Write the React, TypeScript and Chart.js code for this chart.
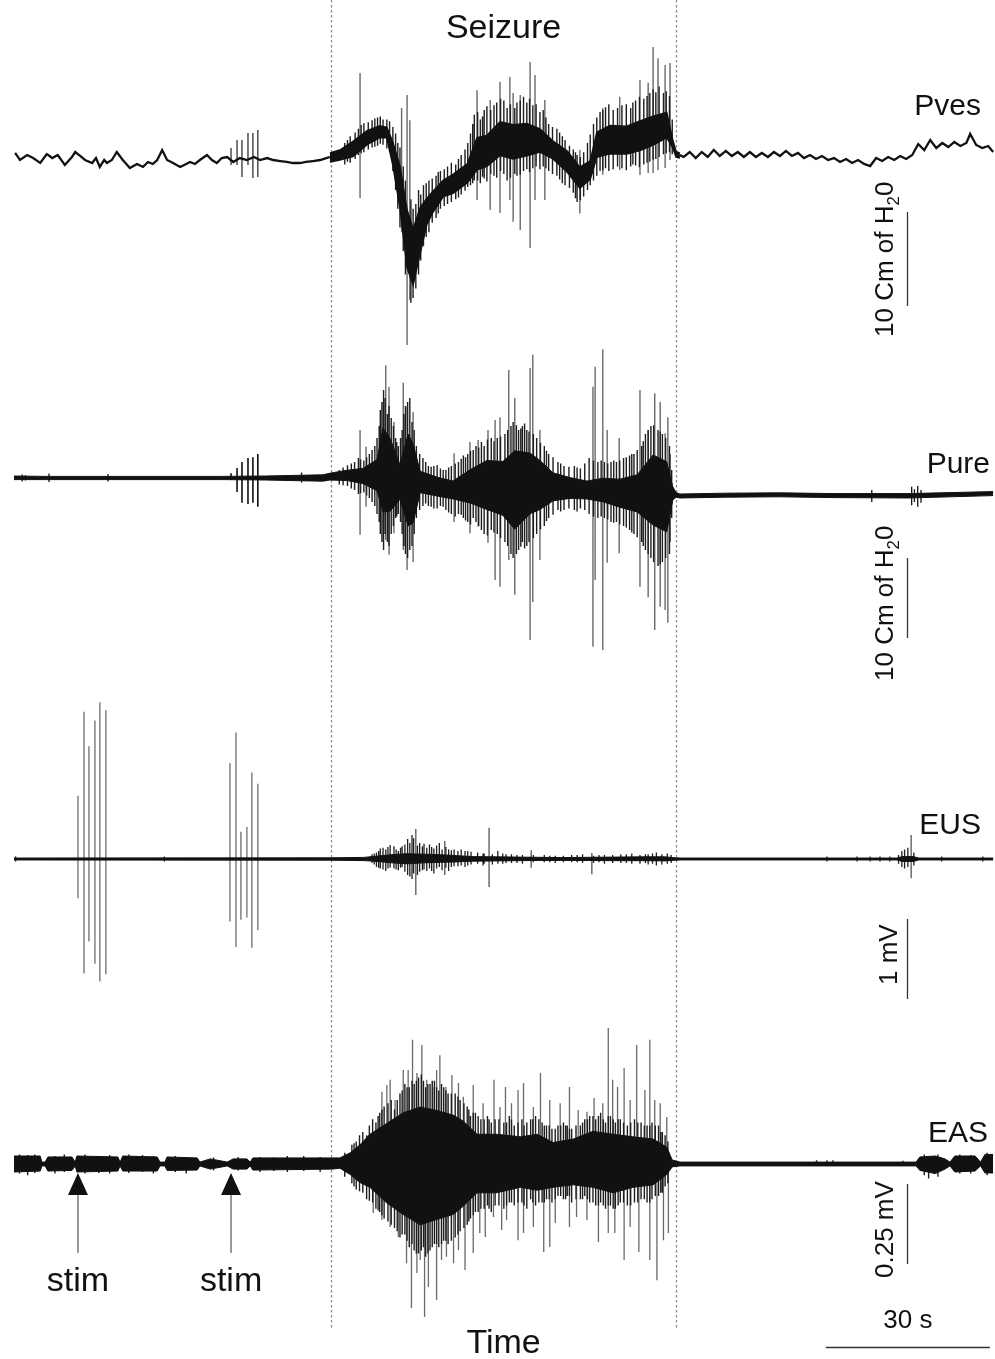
import { useEffect, useRef } from "react";
import { Chart, registerables } from "chart.js";

Chart.register(...registerables);

const CANVAS_W = 995;
const CANVAS_H = 1359;

// ---------- time axis (s from start of record) ----------
const timeMin = -2.56;
const timeMax = 179.44;
const seizureWindow = [58.0, 121.1];
const stimTimes = [11.7, 39.7];
const timeBarSeconds = 30;
const timeBarStart = 148.5;

// ---------- Pves (cm H2O, relative to resting baseline) ----------
const pvesPre: [number, number][] = [
  [0.2, 0.43], [1.1, -0.32], [2.4, 0.21], [3.5, -0.11], [4.8, -0.64], [6.0, 0.32], [7.0, -0.11], [8.0, 0.21],
  [9.3, -0.85], [10.6, 0], [11.2, 0.53], [12.1, 0.11], [13.0, -0.32], [14.3, -0.64], [15.0, -0.11], [15.7, -1.06],
  [16.5, -0.32], [17.0, -0.64], [17.9, -0.32], [18.8, 0.53], [19.9, -0.32], [21.2, -1.17], [22.5, -0.74], [23.6, -1.06],
  [24.5, -0.53], [25.4, -0.74], [26.2, -0.32], [27.1, 0.74], [28.0, -0.32], [29.1, -0.64], [30.4, -1.06], [31.5, -0.74],
  [32.2, -0.53], [33.1, -0.74], [34.0, -0.32], [35.3, 0.21], [36.2, -0.32], [37.1, -0.64], [38.0, -0.11], [39.0, 0],
  [40.1, -0.53], [41.3, -0.11], [42.6, -0.32], [43.9, 0], [45.0, -0.32], [46.3, -0.11], [47.4, -0.32], [48.7, -0.43],
  [49.9, -0.53], [51.0, -0.64], [52.3, -0.64], [53.4, -0.53], [54.7, -0.43], [56.0, -0.32], [57.1, -0.11], [57.8, 0],
];
const pvesStim: [number, number, number][] = [
  [39.7, -0.85, 0.96], [40.8, -0.85, 1.81], [41.7, -2.13, 1.81], [42.8, -0.85, 2.55], [43.7, -2.23, 2.55], [44.6, -2.13, 2.87],
];
const pvesSeizureCore: [number, number, number][] = [
  [57.8, 0.43, -0.53], [59.6, 0.74, -0.31], [62.0, 1.66, 0.05], [64.6, 2.79, 1.32], [66.9, 3.33, 2.07], [68.2, 3.16, 2.04],
  [69.3, 1.58, -0.88], [70.6, -0.96, -5.44], [71.9, -5.62, -11.78], [73.0, -7.68, -13.63], [74.3, -5.35, -10.25],
  [75.5, -4.4, -7.2], [76.6, -3.68, -5.92], [78.5, -2.48, -4.23], [80.3, -1.84, -3.87], [82.9, -0.74, -2.77],
  [84.7, 2.07, -1.37], [86.5, 2.3, -1.0], [88.9, 3.74, 0.16], [91.3, 3.42, -0.22], [93.8, 3.57, 0.14], [96.2, 2.98, 0.53],
  [98.6, 1.7, -0.2], [101.2, 0.62, -1.62], [103.5, -1.08, -3.32], [105.4, -0.42, -2.38], [106.6, 2.63, -0.03],
  [109.0, 3.36, 0.35], [112.1, 3.27, 0.33], [114.5, 3.83, 0.68], [116.9, 4.34, 1.26], [119.4, 4.73, 2.07],
  [120.5, 1.82, 0.98], [121.1, 0.6, 0], [121.8, 0.4, -0.1],
];
const pvesSeizureSpikes: [number, number, number][] = [
  [63.3, -4.36, 8.94], [70.9, -8.0, 5.2], [71.9, -20.0, 6.6], [72.4, -15.2, 3.9], [84.7, -4.57, 7.1], [87.1, -5.64, 6.06],
  [88.9, -5.96, 8.0], [90.7, -4.57, 8.5], [91.3, -6.9, 6.8], [92.6, -7.77, 6.6], [94.4, -9.68, 10.1], [95.3, -4.57, 8.72],
  [97.1, -4.57, 6.06], [103.5, -6.0, 0.74], [107.7, -1.9, 5.2], [110.8, -1.38, 6.4], [114.5, -1.91, 8.19], [116.0, -1.7, 7.9],
  [116.9, -1.7, 11.7], [117.8, -1.38, 10.5], [119.1, -1.17, 9.79], [120.0, -0.32, 10.0],
];
const pvesNoise: [number, number, number][] = [
  [60.5, -0.8, 1.5], [61.0, -0.5, 1.8], [61.5, -0.6, 2.2], [62.4, -0.2, 2.6], [63.0, 0.2, 3.0], [63.5, 0.4, 3.4],
  [64.0, 0.5, 3.6], [64.8, 0.8, 3.7], [65.5, 1.0, 3.9], [66.0, 1.1, 4.1], [66.5, 1.2, 4.2], [67.0, 1.4, 4.3],
  [67.5, 1.3, 4.0], [68.2, 0.9, 4.0], [68.7, 0.5, 3.8], [69.3, -1.5, 3.2], [69.8, -3.5, 2.5], [70.2, -5.5, 1.5],
  [70.6, -7.5, 1.0], [71.2, -10.0, -1.0], [71.6, -12.5, -2.5], [72.6, -15.5, -4.5], [73.0, -15.0, -5.5], [73.5, -14.0, -5.0],
  [74.0, -12.5, -3.5], [74.4, -11.0, -4.0], [74.9, -9.5, -3.0], [75.4, -8.5, -2.8], [75.9, -8.0, -2.5], [76.5, -7.0, -2.3],
  [77.2, -6.5, -2.0], [77.6, -6.0, -1.6], [78.0, -5.5, -1.5], [78.7, -5.2, -1.3], [79.3, -5.0, -1.0], [80.0, -4.8, -0.6],
  [80.8, -4.5, -0.8], [81.3, -4.3, -0.2], [81.8, -4.0, 0.2], [82.5, -3.6, 0.8], [83.0, -3.2, 1.5], [83.5, -3.0, 2.5],
  [83.9, -2.8, 3.5], [84.2, -2.5, 4.5], [84.8, -2.5, 4.8], [85.3, -2.8, 4.0], [85.7, -2.1, 4.3], [86.0, -2.3, 5.0],
  [86.5, -2.6, 5.4], [87.2, -1.8, 5.0], [87.8, -2.0, 5.5], [88.3, -2.2, 5.8], [89.0, -1.5, 6.2], [89.6, -1.8, 6.0],
  [90.2, -2.5, 5.2], [90.8, -2.2, 5.6], [91.6, -1.8, 5.2], [92.0, -2.0, 5.8], [92.6, -1.9, 6.0], [93.2, -1.5, 6.4],
  [93.8, -1.3, 5.8], [94.3, -1.6, 6.2], [94.9, -1.2, 5.5], [95.5, -1.0, 5.6], [96.2, -1.3, 4.8], [96.8, -1.0, 5.0],
  [97.3, -1.2, 4.2], [97.8, -1.5, 3.5], [98.5, -1.8, 3.2], [99.3, -2.0, 3.0], [99.8, -2.4, 2.6], [100.3, -2.8, 2.2],
  [100.8, -3.0, 1.8], [101.6, -3.3, 1.2], [102.3, -3.8, 0.8], [102.7, -4.4, 0.5], [103.0, -4.8, 0.2], [103.6, -4.6, 0.0],
  [104.2, -4.2, 0.5], [104.9, -3.5, 1.5], [105.4, -3.0, 2.4], [106.0, -2.5, 3.5], [106.6, -2.0, 4.2], [107.2, -1.5, 4.8],
  [107.7, -1.4, 5.0], [108.2, -1.2, 5.3], [108.8, -1.5, 5.6], [109.6, -1.3, 5.0], [110.4, -1.0, 5.2], [111.2, -1.2, 5.5],
  [112.0, -1.4, 5.6], [112.8, -1.0, 5.2], [113.2, -0.8, 5.8], [113.7, -0.9, 6.0], [114.4, -1.1, 6.4], [115.2, -0.8, 6.2],
  [115.8, -0.6, 6.5], [116.3, -0.5, 6.8], [116.9, -0.3, 7.2], [117.4, -0.2, 6.9], [118.0, 0, 7.5], [118.8, 0.3, 6.8],
  [119.3, 0.4, 7.0], [119.9, 0.5, 6.5], [120.4, 0.3, 4.0],
];
const pvesPost: [number, number][] = [
  [121.8, 0.2], [122.5, 0], [123.6, 0.53], [124.7, -0.11], [125.8, 0.53], [126.9, 0], [128.0, 0.74], [129.1, 0.11],
  [130.2, 0.64], [131.3, 0.11], [132.4, 0.53], [133.5, 0], [134.6, 0.53], [135.7, 0], [136.8, 0.43], [137.9, 0],
  [139.0, 0.53], [140.1, 0.11], [141.2, 0.64], [142.3, 0.11], [143.4, 0.43], [144.5, -0.11], [145.6, 0.21], [146.7, -0.21],
  [147.8, 0.11], [148.9, -0.32], [150.0, -0.11], [151.1, -0.53], [152.2, -0.21], [153.3, -0.64], [154.4, -0.32], [155.5, -0.74],
  [156.6, -0.96], [157.7, -0.11], [158.8, -0.43], [159.9, 0], [161.0, -0.32], [162.1, 0.11], [163.2, -0.21], [164.3, 0.21],
  [165.4, 1.38], [166.5, 0.74], [167.6, 1.81], [168.7, 0.96], [169.8, 1.49], [170.9, 1.06], [172.0, 1.6], [173.1, 1.17],
  [174.2, 1.49], [174.9, 2.45], [176.0, 1.28], [177.1, 0.96], [178.2, 1.17], [179.1, 0.53],
];

// ---------- Pure (cm H2O) ----------
const pureCore: [number, number, number][] = [
  [0, 0.25, -0.2], [6.0, 0.2, -0.2], [16.8, 0.2, -0.2], [30.0, 0.2, -0.2], [38.0, 0.2, -0.2], [46.0, 0.25, -0.25],
  [56.5, 0.4, -0.4],
  [57.8, 0.6, -0.25], [60.9, 0.97, -0.32], [63.8, 1.2, -0.7], [66.4, 2.28, -1.58], [67.5, 6.25, -4.25], [68.8, 4.95, -4.15],
  [70.6, 1.67, -2.67], [72.1, 5.5, -6.0], [73.0, 4.28, -5.63], [74.3, 0.83, -1.83], [77.4, 0.1, -2.25], [80.3, -0.38, -2.62],
  [83.4, 1.02, -3.12], [86.5, 2.19, -3.94], [89.4, 2.06, -4.66], [91.6, 3.4, -6.4], [94.4, 3.12, -4.47], [96.2, 2.19, -3.94],
  [98.6, 0.65, -2.85], [101.7, 0.05, -2.55], [104.8, -0.38, -2.62], [107.7, -0.03, -2.97], [110.8, -0.15, -3.65],
  [114.0, 0.4, -4.25], [116.9, 2.88, -5.88], [119.4, 2.03, -6.73], [120.5, -1.1, -2.75], [121.1, -1.8, -2.4],
  [121.8, -2.0, -2.5], [130.0, -1.9, -2.4], [140.0, -1.85, -2.35], [150.0, -1.95, -2.45], [163.5, -1.95, -2.5],
  [179.1, -1.7, -2.2],
];
const pureStim: [number, number, number][] = [
  [39.7, -0.25, 0.6], [40.8, -1.75, 1.25], [41.7, -3.1, 2.0], [42.8, -3.25, 2.5], [43.7, -3.1, 2.6], [44.6, -3.6, 3.0],
];
const pureSmall: [number, number, number][] = [
  [1.5, -0.45, 0.45], [2.1, -0.3, 0.35], [6.4, -0.5, 0.55], [17.2, -0.45, 0.5], [52.6, -0.55, 0.7],
  [156.9, -3.0, -1.5], [164.2, -3.4, -1.1], [164.7, -3.0, -1.4], [165.3, -3.6, -1.0], [165.9, -3.1, -1.5],
];
const pureSpikes: [number, number, number][] = [
  [63.3, -7.1, 6.0], [64.4, -3.6, 3.9], [68.0, -7.75, 14.1], [68.6, -9.6, 11.4], [69.5, -6.9, 7.0], [71.2, -9.0, 11.9],
  [71.9, -11.5, 8.9], [73.0, -10.5, 8.25], [80.5, -5.5, 3.1], [83.4, -6.9, 4.5], [84.9, -6.1, 4.75], [86.7, -8.1, 6.0],
  [88.0, -12.75, 7.25], [88.9, -13.6, 7.6], [90.5, -10.25, 13.5], [91.6, -14.6, 10.0], [94.4, -20.25, 13.75],
  [94.9, -15.5, 15.4], [96.2, -10.25, 6.0], [105.9, -21.1, 11.4], [106.3, -12.75, 13.9], [107.7, -21.5, 16.1],
  [108.5, -10.6, 6.0], [110.7, -9.4, 5.0], [114.5, -13.6, 11.0], [116.0, -14.9, 6.0], [117.2, -19.0, 10.6],
  [118.2, -16.1, 9.5], [119.1, -16.5, 5.6], [119.6, -18.1, 7.6],
];
const pureNoise: [number, number, number][] = [
  [59.5, -0.8, 1.0], [60.2, -0.9, 1.3], [61.0, -1.0, 1.6], [61.7, -1.3, 1.8], [62.3, -1.5, 2.0], [63.0, -2.0, 2.5],
  [63.4, -1.9, 2.3], [64.0, -1.8, 2.2], [64.5, -2.2, 2.6], [65.0, -2.5, 3.0], [65.5, -3.0, 3.5], [66.0, -3.5, 4.0],
  [66.4, -4.5, 5.0], [66.8, -5.5, 6.5], [67.0, -7.0, 8.5], [67.3, -8.0, 9.5], [67.6, -9.0, 11.0], [67.9, -7.0, 10.0],
  [68.3, -8.0, 8.0], [68.6, -8.5, 9.0], [69.0, -7.0, 7.5], [69.4, -6.0, 6.5], [69.8, -5.0, 5.0], [70.0, -4.8, 4.5],
  [70.3, -4.5, 4.0], [70.7, -5.5, 5.0], [71.0, -7.0, 6.0], [71.3, -8.5, 8.0], [71.6, -9.5, 9.0], [72.0, -10.0, 9.5],
  [72.4, -9.0, 10.0], [72.8, -8.5, 7.0], [73.2, -7.0, 6.0], [73.6, -5.0, 4.0], [74.2, -4.0, 3.0], [74.8, -3.5, 2.5],
  [75.3, -3.2, 2.0], [75.8, -3.5, 1.5], [76.3, -3.6, 1.4], [76.8, -3.8, 1.5], [77.4, -3.8, 1.6], [78.0, -3.5, 1.2],
  [78.5, -3.6, 1.0], [79.0, -4.0, 1.0], [79.5, -4.3, 1.3], [80.0, -4.5, 1.5], [80.7, -4.8, 1.8], [81.3, -4.5, 2.0],
  [81.8, -4.6, 2.4], [82.2, -5.0, 2.8], [82.6, -5.3, 2.6], [83.0, -5.5, 3.0], [83.5, -5.8, 3.4], [84.0, -5.0, 3.5],
  [84.5, -5.5, 4.0], [85.0, -6.0, 3.8], [85.5, -6.5, 4.5], [86.0, -7.0, 4.0], [86.6, -7.2, 4.8], [87.3, -6.5, 5.0],
  [87.8, -6.8, 4.6], [88.4, -7.0, 5.0], [89.0, -7.5, 5.2], [89.8, -8.0, 5.5], [90.3, -8.5, 6.0], [90.9, -9.5, 6.5],
  [91.3, -10.0, 7.0], [91.9, -9.5, 6.6], [92.3, -9.0, 6.0], [92.7, -8.6, 6.2], [93.0, -8.0, 6.5], [93.4, -8.8, 6.8],
  [93.8, -8.5, 6.0], [94.2, -8.0, 5.8], [95.0, -7.5, 5.5], [95.6, -7.0, 5.0], [96.3, -6.4, 4.4], [97.0, -6.0, 4.0],
  [97.4, -5.4, 3.4], [97.8, -5.0, 3.0], [98.6, -4.6, 2.6], [99.5, -4.0, 2.0], [100.0, -4.2, 1.8], [100.6, -4.0, 1.5],
  [101.5, -3.8, 1.4], [102.5, -4.0, 1.5], [103.0, -4.2, 1.3], [103.6, -3.8, 1.2], [104.4, -4.0, 1.8], [105.2, -4.5, 2.5],
  [106.0, -4.8, 2.2], [106.8, -5.0, 2.0], [107.4, -4.8, 2.2], [108.0, -5.0, 2.0], [108.6, -5.2, 1.8], [109.2, -5.5, 2.0],
  [109.7, -5.6, 2.2], [110.2, -5.5, 2.0], [110.8, -5.8, 2.2], [111.5, -6.0, 2.5], [112.0, -6.2, 2.6], [112.6, -6.5, 2.8],
  [113.0, -6.8, 3.0], [113.4, -7.0, 3.0], [114.0, -7.4, 3.5], [114.8, -8.0, 4.0], [115.1, -8.5, 4.6], [115.5, -9.0, 5.5],
  [116.0, -9.5, 6.0], [116.5, -10.0, 6.5], [117.0, -10.5, 6.6], [117.8, -11.0, 6.0], [118.2, -10.8, 5.8], [118.6, -10.5, 5.5],
  [119.2, -10.0, 5.0], [119.9, -9.5, 4.0], [120.0, -8.0, 3.0], [120.3, -5.0, 1.0],
];

// ---------- EUS EMG (mV) ----------
const eusCore: [number, number, number][] = [
  [0, 0.012, -0.012], [57.8, 0.015, -0.015], [64.0, 0.02, -0.02], [66.4, 0.036, -0.03], [69.0, 0.054, -0.048],
  [71.9, 0.066, -0.06], [75.0, 0.06, -0.048], [78.0, 0.054, -0.042], [81.0, 0.042, -0.036], [84.0, 0.03, -0.027],
  [88.0, 0.027, -0.024], [92.0, 0.024, -0.021], [96.0, 0.021, -0.018], [100.0, 0.018, -0.018], [105.0, 0.021, -0.018],
  [110.0, 0.024, -0.021], [115.0, 0.027, -0.021], [119.0, 0.027, -0.024], [121.0, 0.015, -0.015], [122.0, 0.012, -0.012],
  [161.5, 0.012, -0.012], [162.5, 0.03, -0.03], [164.5, 0.03, -0.03], [165.5, 0.012, -0.012], [179.1, 0.012, -0.012],
];
const eusStim: [number, number, number][] = [
  [11.7, -0.49, 0.79], [12.8, -1.43, 1.84], [13.7, -1.03, 1.41], [14.8, -1.31, 1.73], [15.7, -1.53, 1.96], [16.8, -1.44, 1.86],
  [39.5, -0.78, 1.2], [40.6, -1.1, 1.58], [41.5, -0.76, 0.34], [42.6, -0.73, 0.4], [43.5, -1.11, 1.08], [44.6, -0.89, 0.94],
];
const eusSpikes: [number, number, number][] = [
  [73.5, -0.45, 0.375], [78.8, -0.2, 0.225], [86.9, -0.35, 0.39], [94.6, -0.11, 0.11], [105.7, -0.19, 0.075],
  [164.1, -0.24, 0.3],
];
const eusNoise: [number, number, number][] = [
  [0.3, -0.03, 0.03], [27.5, -0.03, 0.03], [65.5, -0.05, 0.06], [65.9, -0.07, 0.07], [66.3, -0.1, 0.08],
  [66.7, -0.11, 0.1], [67.0, -0.12, 0.13], [67.5, -0.13, 0.14], [68.0, -0.15, 0.12], [68.4, -0.12, 0.15],
  [68.8, -0.11, 0.175], [69.5, -0.12, 0.16], [69.9, -0.13, 0.12], [70.3, -0.14, 0.1], [70.7, -0.11, 0.14],
  [71.0, -0.1, 0.16], [71.5, -0.16, 0.18], [72.0, -0.2, 0.25], [72.4, -0.22, 0.2], [72.8, -0.25, 0.3],
  [73.1, -0.18, 0.26], [73.8, -0.2, 0.17], [74.2, -0.16, 0.2], [74.7, -0.14, 0.16], [75.0, -0.13, 0.19],
  [75.5, -0.15, 0.14], [76.0, -0.12, 0.18], [76.4, -0.15, 0.15], [76.8, -0.18, 0.13], [77.3, -0.12, 0.17],
  [77.8, -0.1, 0.2], [78.3, -0.14, 0.12], [79.0, -0.11, 0.15], [79.5, -0.15, 0.12], [80.0, -0.1, 0.11],
  [80.5, -0.09, 0.12], [81.2, -0.09, 0.1], [81.8, -0.08, 0.12], [82.5, -0.1, 0.1], [83.0, -0.08, 0.1],
  [83.6, -0.07, 0.09], [84.8, -0.06, 0.08], [85.8, -0.08, 0.07], [86.0, -0.06, 0.07], [87.5, -0.07, 0.06],
  [88.5, -0.06, 0.1], [89.4, -0.06, 0.07], [90.0, -0.05, 0.06], [91.0, -0.05, 0.06], [92.0, -0.05, 0.05],
  [93.0, -0.06, 0.05], [95.0, -0.04, 0.05], [97.0, -0.04, 0.05], [98.0, -0.04, 0.04], [99.0, -0.05, 0.04],
  [100.5, -0.04, 0.04], [102.0, -0.04, 0.05], [103.0, -0.04, 0.05], [104.0, -0.05, 0.06], [106.0, -0.05, 0.04],
  [107.0, -0.04, 0.05], [108.0, -0.06, 0.05], [109.5, -0.05, 0.05], [111.0, -0.05, 0.06], [112.0, -0.05, 0.06],
  [113.0, -0.06, 0.07], [114.5, -0.06, 0.05], [115.5, -0.05, 0.06], [116.0, -0.07, 0.06], [116.8, -0.06, 0.07],
  [117.5, -0.08, 0.08], [118.5, -0.07, 0.06], [119.5, -0.06, 0.07], [120.2, -0.05, 0.05],
  [148.7, -0.03, 0.03], [154.2, -0.03, 0.03], [156.6, -0.03, 0.03], [158.4, -0.03, 0.03], [160.2, -0.03, 0.03],
  [161.8, -0.06, 0.05], [162.4, -0.1, 0.1], [162.9, -0.12, 0.12], [163.5, -0.1, 0.14], [164.6, -0.08, 0.08],
  [169.7, -0.03, 0.03], [177.2, -0.03, 0.03],
];

// ---------- EAS EMG (mV) ----------
const easCore: [number, number, number][] = [
  [0, 0.025, -0.025], [4.8, 0.025, -0.022], [5.1, 0.006, -0.006], [5.7, 0.006, -0.006], [6.2, 0.022, -0.022],
  [10.6, 0.022, -0.02], [11.2, 0.006, -0.006], [11.5, 0.025, -0.025], [19.0, 0.022, -0.022], [19.4, 0.006, -0.006],
  [19.9, 0.025, -0.022], [26.2, 0.022, -0.022], [26.7, 0.006, -0.006], [27.6, 0.006, -0.006], [28.0, 0.022, -0.02],
  [33.5, 0.019, -0.019], [34.0, 0.006, -0.006], [35.9, 0.016, -0.016], [39.0, 0.006, -0.006], [40.1, 0.016, -0.016],
  [42.6, 0.016, -0.016], [43.2, 0.006, -0.006], [43.7, 0.019, -0.019], [58.3, 0.019, -0.016],
  [59.6, 0.019, -0.013], [61.5, 0.035, -0.033], [63.3, 0.06, -0.058], [65.1, 0.093, -0.073], [68.2, 0.127, -0.122],
  [71.2, 0.16, -0.158], [74.3, 0.178, -0.19], [77.4, 0.167, -0.173], [80.3, 0.153, -0.158], [82.1, 0.135, -0.133],
  [84.7, 0.093, -0.09], [88.3, 0.093, -0.09], [92.6, 0.085, -0.073], [95.7, 0.093, -0.082], [98.6, 0.067, -0.073],
  [102.3, 0.078, -0.065], [105.9, 0.102, -0.073], [109.6, 0.093, -0.09], [113.2, 0.085, -0.073], [116.9, 0.078, -0.065],
  [119.4, 0.053, -0.033], [120.4, 0.0125, -0.009], [121.8, 0.006, -0.006], [165.0, 0.006, -0.006],
  [165.7, 0.022, -0.02], [168.5, 0.025, -0.03], [170.3, 0.016, -0.016], [171.2, 0.006, -0.006], [172.1, 0.025, -0.025],
  [175.8, 0.025, -0.022], [176.8, 0.006, -0.006], [177.6, 0.03, -0.028], [179.1, 0.03, -0.028],
];
const easUpSpikes: [number, number][] = [
  [67.3, 0.226], [68.2, 0.247], [68.8, 0.263], [69.7, 0.2], [71.2, 0.294], [72.1, 0.294], [72.9, 0.388], [73.7, 0.284],
  [74.6, 0.372], [75.5, 0.263], [76.6, 0.241], [77.3, 0.294], [77.9, 0.34], [79.0, 0.241], [80.1, 0.278], [81.3, 0.253],
  [82.2, 0.21], [84.0, 0.247], [85.8, 0.19], [87.8, 0.263], [88.9, 0.178], [89.9, 0.241], [91.0, 0.19], [92.2, 0.231],
  [93.2, 0.253], [95.0, 0.178], [96.3, 0.284], [98.0, 0.2], [99.9, 0.19], [101.6, 0.241], [103.2, 0.169], [104.8, 0.163],
  [106.1, 0.206], [107.7, 0.19], [108.7, 0.425], [109.5, 0.263], [110.4, 0.241], [111.6, 0.3], [112.7, 0.2], [113.9, 0.372],
  [115.4, 0.231], [116.3, 0.388], [117.2, 0.2], [118.2, 0.19], [119.4, 0.147],
];
const easDownSpikes: [number, number][] = [
  [65.7, -0.153], [67.3, -0.175], [68.8, -0.197], [70.3, -0.228], [71.8, -0.31], [72.7, -0.45], [73.7, -0.341],
  [74.3, -0.3], [75.1, -0.478], [75.8, -0.384], [77.3, -0.425], [78.2, -0.3], [79.1, -0.29], [80.4, -0.31], [81.3, -0.269],
  [82.5, -0.331], [84.0, -0.278], [85.2, -0.216], [86.2, -0.228], [87.7, -0.166], [89.2, -0.206], [90.1, -0.175],
  [92.2, -0.238], [93.2, -0.216], [95.0, -0.197], [96.9, -0.275], [98.0, -0.259], [99.0, -0.184], [101.6, -0.197],
  [102.9, -0.166], [104.8, -0.175], [106.9, -0.244], [108.7, -0.216], [109.9, -0.216], [111.6, -0.3], [112.7, -0.197],
  [114.3, -0.275], [116.3, -0.3], [117.6, -0.363], [118.8, -0.238], [119.7, -0.216],
];
const easNoise: [number, number, number][] = [
  [1.0, -0.03, 0.03], [2.5, -0.035, 0.028], [3.8, -0.028, 0.03], [7.5, -0.03, 0.025], [9.2, -0.025, 0.03],
  [13.0, -0.03, 0.03], [15.5, -0.028, 0.025], [17.5, -0.03, 0.028], [21.0, -0.028, 0.03], [23.5, -0.025, 0.028],
  [25.5, -0.03, 0.025], [29.5, -0.025, 0.025], [31.5, -0.03, 0.022], [36.5, -0.02, 0.02], [41.0, -0.02, 0.022],
  [45.0, -0.025, 0.022], [47.5, -0.022, 0.02], [50.0, -0.025, 0.025], [53.0, -0.022, 0.025], [56.0, -0.025, 0.022],
  [60.5, -0.04, 0.035], [61.8, -0.06, 0.06], [62.2, -0.07, 0.065], [62.6, -0.08, 0.07], [63.2, -0.085, 0.09],
  [63.8, -0.09, 0.1], [64.5, -0.11, 0.09], [65.0, -0.115, 0.12], [65.6, -0.12, 0.14], [66.2, -0.14, 0.13],
  [66.6, -0.145, 0.15], [66.9, -0.15, 0.16], [67.3, -0.16, 0.17], [67.7, -0.17, 0.18], [68.4, -0.18, 0.19],
  [69.0, -0.19, 0.2], [69.6, -0.2, 0.17], [70.1, -0.21, 0.2], [70.6, -0.23, 0.22], [71.0, -0.22, 0.23],
  [71.5, -0.22, 0.25], [71.9, -0.24, 0.24], [72.3, -0.26, 0.24], [72.8, -0.25, 0.26], [73.2, -0.27, 0.25],
  [73.6, -0.28, 0.26], [74.0, -0.28, 0.27], [74.5, -0.27, 0.28], [74.9, -0.26, 0.26], [75.3, -0.29, 0.24],
  [75.7, -0.28, 0.25], [76.1, -0.27, 0.25], [76.5, -0.26, 0.26], [76.9, -0.25, 0.26], [77.3, -0.25, 0.24],
  [77.7, -0.26, 0.23], [78.2, -0.25, 0.25], [78.6, -0.24, 0.24], [79.0, -0.24, 0.23], [79.4, -0.25, 0.22],
  [80.0, -0.24, 0.22], [80.7, -0.23, 0.22], [81.2, -0.22, 0.21], [81.6, -0.21, 0.2], [82.3, -0.2, 0.19],
  [82.9, -0.19, 0.18], [83.2, -0.18, 0.17], [83.5, -0.17, 0.15], [84.0, -0.16, 0.16], [84.4, -0.15, 0.16],
  [84.9, -0.15, 0.15], [85.4, -0.14, 0.14], [86.0, -0.14, 0.14], [86.6, -0.13, 0.15], [86.9, -0.14, 0.14],
  [87.3, -0.15, 0.13], [88.0, -0.13, 0.14], [88.7, -0.13, 0.14], [89.6, -0.14, 0.13], [90.1, -0.13, 0.13],
  [90.6, -0.12, 0.15], [91.0, -0.12, 0.14], [91.5, -0.13, 0.12], [92.2, -0.12, 0.13], [92.9, -0.12, 0.14],
  [93.3, -0.13, 0.12], [93.8, -0.14, 0.13], [94.5, -0.11, 0.14], [94.9, -0.12, 0.14], [95.4, -0.13, 0.15],
  [96.0, -0.12, 0.14], [96.6, -0.12, 0.13], [97.0, -0.12, 0.12], [97.4, -0.11, 0.12], [97.9, -0.11, 0.12],
  [98.4, -0.12, 0.11], [99.0, -0.11, 0.11], [99.5, -0.1, 0.12], [100.0, -0.1, 0.12], [100.5, -0.11, 0.13],
  [100.9, -0.11, 0.12], [101.2, -0.1, 0.12], [101.6, -0.1, 0.11], [102.0, -0.12, 0.11], [102.8, -0.11, 0.12],
  [103.6, -0.11, 0.12], [104.0, -0.11, 0.13], [104.4, -0.1, 0.14], [104.9, -0.11, 0.14], [105.3, -0.12, 0.15],
  [105.9, -0.12, 0.15], [106.4, -0.13, 0.14], [106.9, -0.13, 0.15], [107.3, -0.12, 0.16], [107.8, -0.13, 0.14],
  [108.2, -0.14, 0.13], [108.7, -0.13, 0.15], [109.1, -0.13, 0.15], [109.6, -0.14, 0.14], [110.0, -0.14, 0.13],
  [110.5, -0.13, 0.14], [110.9, -0.12, 0.14], [111.5, -0.12, 0.13], [112.2, -0.13, 0.12], [112.8, -0.13, 0.13],
  [113.5, -0.12, 0.14], [114.1, -0.12, 0.13], [114.7, -0.11, 0.13], [115.3, -0.11, 0.12], [115.8, -0.12, 0.12],
  [116.3, -0.12, 0.12], [116.7, -0.11, 0.13], [117.3, -0.1, 0.12], [117.9, -0.1, 0.12], [118.3, -0.09, 0.1],
  [118.6, -0.09, 0.1], [119.1, -0.07, 0.09], [119.6, -0.06, 0.07],
  [146.8, 0, 0.012], [148.7, 0, 0.012], [149.8, 0, 0.012], [162.6, 0, 0.01], [166.5, -0.035, 0.03], [167.3, -0.045, 0.02],
  [169.0, -0.04, 0.03], [173.0, -0.03, 0.03], [175.0, -0.03, 0.028], [178.0, -0.035, 0.035],
];

// ---------- layout of the four traces (baseline pixel row, pixels per unit) ----------
const traceLayout: Record<string, { base: number; ppu: number }> = {
  yPves: { base: 157, ppu: 9.4 },
  yPure: { base: 478, ppu: 8 },
  yEus: { base: 859, ppu: 80 },
  yEas: { base: 1164, ppu: 320 },
};

const INK = "#111";
const DARK = "#1e1e1e";
const SPIKE = "#6a6a6a";
const FONT = '"Liberation Sans", Arial, sans-serif';

function lineDs(pts: [number, number][], axis: string, width: number) {
  return {
    type: "line" as const,
    data: pts.map(([x, y]) => ({ x, y })),
    yAxisID: axis,
    borderColor: INK,
    borderWidth: width,
    pointRadius: 0,
    fill: false,
    tension: 0,
    order: 0,
  };
}

function bandDs(band: [number, number, number][], axis: string, edge: number) {
  return [
    {
      type: "line" as const,
      data: band.map(([x, u]) => ({ x, y: u })),
      yAxisID: axis,
      borderColor: INK,
      borderWidth: edge,
      backgroundColor: INK,
      pointRadius: 0,
      fill: "+1",
      tension: 0,
      order: 0,
    },
    {
      type: "line" as const,
      data: band.map(([x, , l]) => ({ x, y: l })),
      yAxisID: axis,
      borderColor: INK,
      borderWidth: edge,
      pointRadius: 0,
      fill: false,
      tension: 0,
      order: 0,
    },
  ];
}

function spikeDs(spikes: [number, number, number][], axis: string, color: string, width: number, order: number) {
  const data: { x: number; y: number | null }[] = [];
  for (const [t, lo, hi] of spikes) {
    data.push({ x: t, y: lo }, { x: t, y: hi }, { x: t, y: null });
  }
  return {
    type: "line" as const,
    data,
    yAxisID: axis,
    borderColor: color,
    borderWidth: width,
    pointRadius: 0,
    fill: false,
    spanGaps: false,
    tension: 0,
    order,
  };
}

function vLabel(ctx: CanvasRenderingContext2D, parts: { text: string; sub?: boolean }[], x: number, yStart: number, size: number) {
  ctx.save();
  ctx.translate(x, yStart);
  ctx.rotate(-Math.PI / 2);
  ctx.textAlign = "left";
  ctx.textBaseline = "alphabetic";
  let cx = 0;
  for (const p of parts) {
    const s = p.sub ? size * 0.65 : size;
    ctx.font = `${s}px ${FONT}`;
    ctx.fillText(p.text, cx, p.sub ? size * 0.22 : 0);
    cx += ctx.measureText(p.text).width;
  }
  ctx.restore();
}

const overlay = {
  id: "overlay",
  beforeDatasetsDraw(chart: any) {
    const ctx: CanvasRenderingContext2D = chart.ctx;
    const xs = chart.scales.x;
    ctx.save();
    ctx.strokeStyle = "#8a8a8a";
    ctx.lineWidth = 1.3;
    ctx.setLineDash([2.5, 2.5]);
    for (const t of seizureWindow) {
      const x = Math.round(xs.getPixelForValue(t)) + 0.5;
      ctx.beginPath();
      ctx.moveTo(x, 0);
      ctx.lineTo(x, 1329);
      ctx.stroke();
    }
    ctx.restore();
  },
  afterDatasetsDraw(chart: any) {
    const ctx: CanvasRenderingContext2D = chart.ctx;
    const xs = chart.scales.x;
    ctx.save();
    ctx.fillStyle = INK;
    ctx.textBaseline = "alphabetic";

    const mid = (xs.getPixelForValue(seizureWindow[0]) + xs.getPixelForValue(seizureWindow[1])) / 2;
    ctx.font = `34px ${FONT}`;
    ctx.textAlign = "center";
    ctx.fillText("Seizure", mid, 38);
    ctx.fillText("Time", mid, 1353);

    ctx.font = `30px ${FONT}`;
    ctx.textAlign = "right";
    ctx.fillText("Pves", 981, 115);
    ctx.fillText("Pure", 990, 473);
    ctx.fillText("EUS", 981, 834);
    ctx.fillText("EAS", 988, 1142);

    const bars: [string, number, number][] = [
      ["yPves", 10, 212],
      ["yPure", 10, 558],
      ["yEus", 1, 919],
      ["yEas", 0.25, 1184],
    ];
    ctx.strokeStyle = "#333";
    ctx.lineWidth = 1.3;
    for (const [id, len, top] of bars) {
      const ys = chart.scales[id];
      const L = ys.getPixelForValue(0) - ys.getPixelForValue(len);
      ctx.beginPath();
      ctx.moveTo(907.5, top);
      ctx.lineTo(907.5, top + L);
      ctx.stroke();
    }
    vLabel(ctx, [{ text: "10 Cm of H" }, { text: "2", sub: true }, { text: "0" }], 893, 337, 26);
    vLabel(ctx, [{ text: "10 Cm of H" }, { text: "2", sub: true }, { text: "0" }], 893, 681, 26);
    vLabel(ctx, [{ text: "1 mV" }], 897, 985, 26);
    vLabel(ctx, [{ text: "0.25 mV" }], 893, 1278, 26);

    const x0 = xs.getPixelForValue(timeBarStart);
    const x1 = xs.getPixelForValue(timeBarStart + timeBarSeconds);
    ctx.beginPath();
    ctx.moveTo(x0, 1347.5);
    ctx.lineTo(x1, 1347.5);
    ctx.stroke();
    ctx.font = `26px ${FONT}`;
    ctx.textAlign = "center";
    ctx.fillText("30 s", (x0 + x1) / 2, 1328);

    for (const t of stimTimes) {
      const x = xs.getPixelForValue(t);
      ctx.fillStyle = INK;
      ctx.beginPath();
      ctx.moveTo(x, 1173);
      ctx.lineTo(x - 10, 1195);
      ctx.lineTo(x + 10, 1195);
      ctx.closePath();
      ctx.fill();
      ctx.strokeStyle = "#777";
      ctx.lineWidth = 1.5;
      ctx.beginPath();
      ctx.moveTo(x, 1195);
      ctx.lineTo(x, 1253);
      ctx.stroke();
      ctx.font = `34px ${FONT}`;
      ctx.textAlign = "center";
      ctx.fillText("stim", x, 1291);
    }
    ctx.restore();
  },
};

export default function App() {
  const ref = useRef<HTMLCanvasElement>(null);
  useEffect(() => {
    const datasets: any[] = [
      lineDs(pvesPre, "yPves", 2.3),
      ...bandDs(pvesSeizureCore, "yPves", 1.5),
      lineDs(pvesPost, "yPves", 2.3),
      ...bandDs(pureCore, "yPure", 1),
      ...bandDs(eusCore, "yEus", 1),
      ...bandDs(easCore, "yEas", 1),

      spikeDs(pvesNoise, "yPves", DARK, 1.4, 1),
      spikeDs(pvesStim, "yPves", "#333", 1.3, 1),
      spikeDs(pureNoise, "yPure", DARK, 1.4, 1),
      spikeDs(pureStim, "yPure", INK, 1.6, 1),
      spikeDs(pureSmall, "yPure", INK, 1.3, 1),
      spikeDs(eusNoise, "yEus", DARK, 1.3, 1),
      spikeDs(easNoise, "yEas", DARK, 1.4, 1),

      spikeDs(pvesSeizureSpikes, "yPves", SPIKE, 1.4, 2),
      spikeDs(pureSpikes, "yPure", SPIKE, 1.4, 2),
      spikeDs(eusStim, "yEus", "#8a8a8a", 1.6, 2),
      spikeDs(eusSpikes, "yEus", "#555", 1.3, 2),
      spikeDs(easUpSpikes.map(([t, v]) => [t, 0, v] as [number, number, number]), "yEas", SPIKE, 1.3, 2),
      spikeDs(easDownSpikes.map(([t, v]) => [t, v, 0] as [number, number, number]), "yEas", SPIKE, 1.3, 2),
    ];

    const yScales: any = {};
    for (const id of Object.keys(traceLayout)) {
      const { base, ppu } = traceLayout[id];
      yScales[id] = {
        type: "linear",
        display: false,
        min: -(CANVAS_H - base) / ppu,
        max: base / ppu,
      };
    }

    const chart = new Chart(ref.current as HTMLCanvasElement, {
      type: "line",
      data: { datasets },
      options: {
        responsive: false,
        animation: false,
        events: [],
        layout: { padding: 0 },
        plugins: { legend: { display: false }, tooltip: { enabled: false } },
        elements: { point: { radius: 0 }, line: { tension: 0 } },
        scales: {
          x: { type: "linear", display: false, min: timeMin, max: timeMax, offset: false },
          ...yScales,
        },
      },
      plugins: [overlay],
    });
    return () => chart.destroy();
  }, []);

  return (
    <div style={{ position: "absolute", left: 0, top: 0, width: CANVAS_W, height: CANVAS_H, background: "#fff" }}>
      <canvas ref={ref} width={CANVAS_W} height={CANVAS_H} style={{ display: "block", width: CANVAS_W, height: CANVAS_H }} />
    </div>
  );
}
